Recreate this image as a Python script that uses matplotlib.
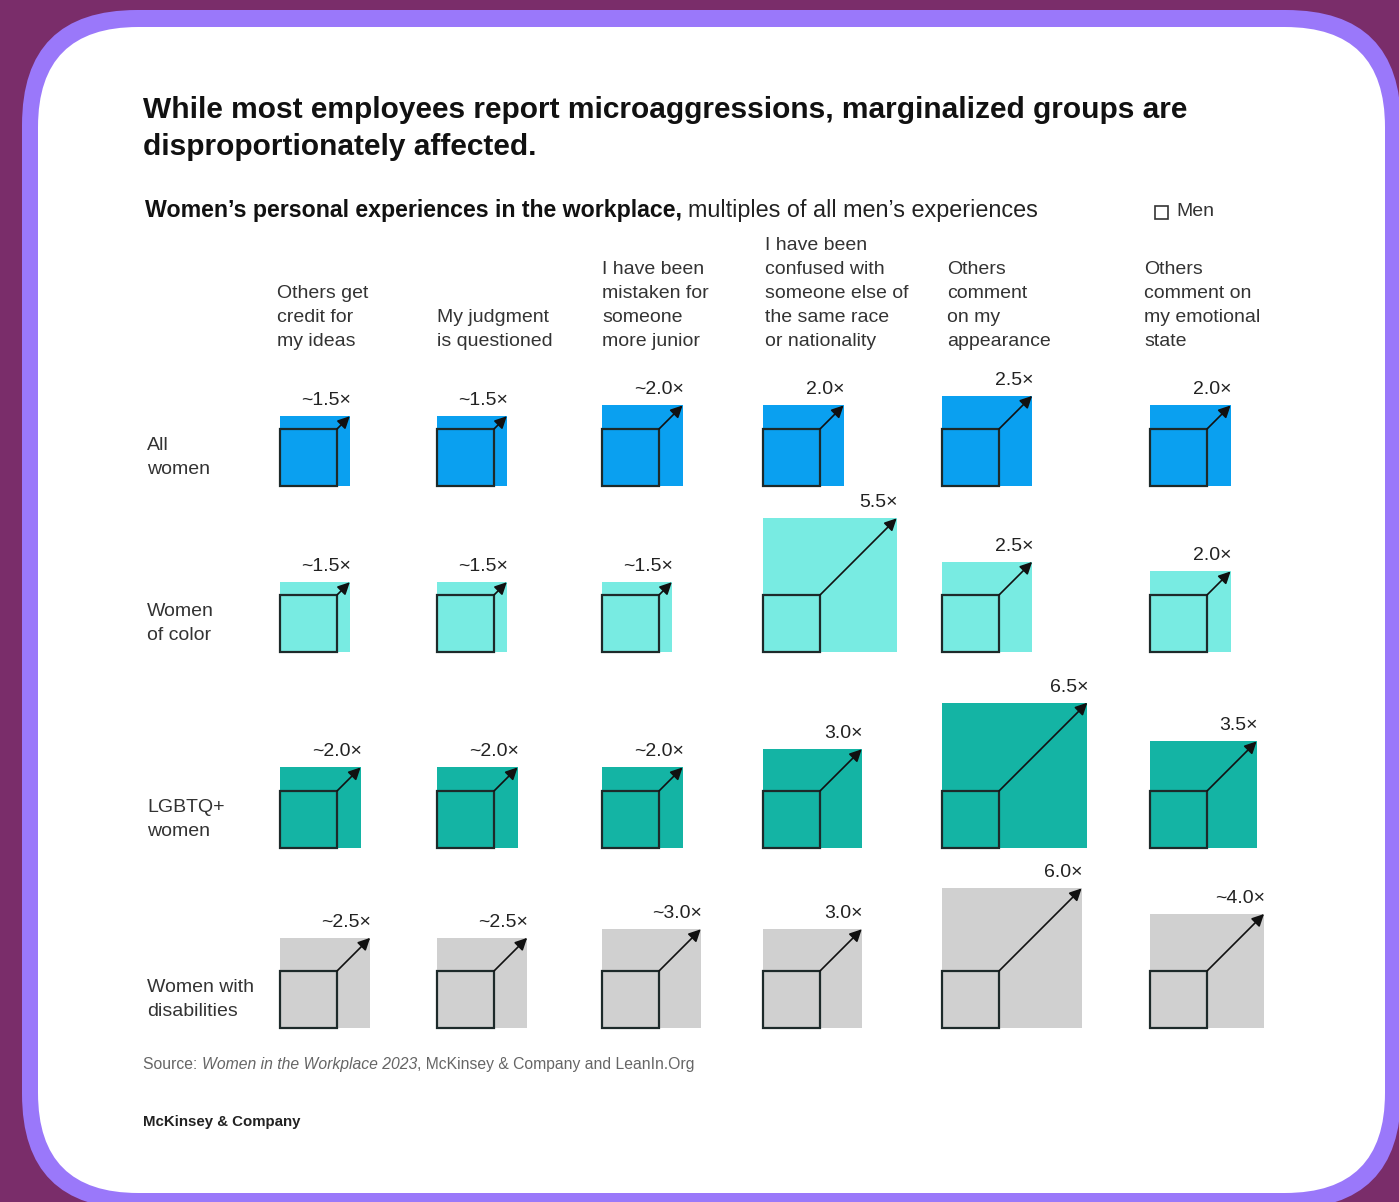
import matplotlib
matplotlib.use("Agg")
import matplotlib.pyplot as plt
from matplotlib.patches import Rectangle, FancyBboxPatch
import numpy as np

plt.rcParams['font.family'] = ['Liberation Sans', 'DejaVu Sans']

# ---------------- data ----------------
experiences = [
    ["Others get", "credit for", "my ideas"],
    ["My judgment", "is questioned"],
    ["I have been", "mistaken for", "someone", "more junior"],
    ["I have been", "confused with", "someone else of", "the same race", "or nationality"],
    ["Others", "comment", "on my", "appearance"],
    ["Others", "comment on", "my emotional", "state"],
]
groups = [["All", "women"], ["Women", "of color"], ["LGBTQ+", "women"], ["Women with", "disabilities"]]

all_women = [1.5, 1.5, 2.0, 2.0, 2.5, 2.0]
women_of_color = [1.5, 1.5, 1.5, 5.5, 2.5, 2.0]
lgbtq_women = [2.0, 2.0, 2.0, 3.0, 6.5, 3.5]
women_disabilities = [2.5, 2.5, 3.0, 3.0, 6.0, 4.0]

all_women_lbl = ["~1.5×", "~1.5×", "~2.0×", "2.0×", "2.5×", "2.0×"]
women_of_color_lbl = ["~1.5×", "~1.5×", "~1.5×", "5.5×", "2.5×", "2.0×"]
lgbtq_women_lbl = ["~2.0×", "~2.0×", "~2.0×", "3.0×", "6.5×", "3.5×"]
women_disabilities_lbl = ["~2.5×", "~2.5×", "~3.0×", "3.0×", "6.0×", "~4.0×"]

values = [all_women, women_of_color, lgbtq_women, women_disabilities]
labels = [all_women_lbl, women_of_color_lbl, lgbtq_women_lbl, women_disabilities_lbl]

# ---------------- layout / style ----------------
row_colors = ["#0aa0f0", "#78ebe2", "#14b4a4", "#d0d0d0"]
col_x = [280, 437, 602, 763, 942, 1150]
header_x = [277, 437, 602, 765, 947, 1144]
row_bottom = [486, 652, 848, 1028]
base = 57  # side of the "men" square in px

W, H = 1399, 1202
fig = plt.figure(figsize=(W / 100, H / 100), dpi=100)
ax = fig.add_axes([0, 0, 1, 1])
ax.set_xlim(0, W)
ax.set_ylim(H, 0)
ax.axis("off")
fig.patch.set_facecolor("#7a2d6a")

ax.add_patch(FancyBboxPatch((22, 10), 1401 - 22, 1209 - 10,
                            boxstyle="round,pad=0,rounding_size=115",
                            fc="#9a78fa", ec="none"))
ax.add_patch(FancyBboxPatch((38, 27), 1385 - 38, 1193 - 27,
                            boxstyle="round,pad=0,rounding_size=100",
                            fc="white", ec="none"))

ax.text(143, 110, "While most employees report microaggressions, marginalized groups are",
        fontsize=21.5, fontweight="bold", color="#111", va="center", ha="left")
ax.text(143, 147, "disproportionately affected.",
        fontsize=21.5, fontweight="bold", color="#111", va="center", ha="left")

t = ax.text(145, 217, "Women’s personal experiences in the workplace,", fontsize=16.7,
            fontweight="bold", color="#111", va="baseline", ha="left")
fig.canvas.draw()
bb = t.get_window_extent()
x_after = bb.x1 + 6  # pixels == data units on x
ax.text(x_after, 217, "multiples of all men’s experiences", fontsize=16.8,
        color="#222", va="baseline", ha="left")

# legend
ax.add_patch(Rectangle((1155, 206), 13, 13, fc="white", ec="#333", lw=1.2))
ax.text(1176, 212, "Men", fontsize=14, color="#333", va="center", ha="left")

# column headers
for x, lines in zip(header_x, experiences):
    n = len(lines)
    for i, line in enumerate(lines):
        ax.text(x, 346 - 24 * (n - 1 - i), line, fontsize=14, color="#333",
                ha="left", va="baseline")

# row labels
for yb, g in zip(row_bottom, groups):
    yc = yb - base / 2
    ax.text(147, yc - 7, g[0], fontsize=14, color="#333", ha="left", va="baseline")
    ax.text(147, yc + 17, g[1], fontsize=14, color="#333", ha="left", va="baseline")

# squares
for r, (vals, lbls) in enumerate(zip(values, labels)):
    yb = row_bottom[r]
    for c, (v, lb) in enumerate(zip(vals, lbls)):
        x0 = col_x[c]
        s = base * np.sqrt(v)
        ax.add_patch(Rectangle((x0, yb - s), s, s, fc=row_colors[r], ec="none"))
        ax.add_patch(Rectangle((x0, yb - base), base, base, fc="none", ec="#1d2a2a", lw=1.6))
        ax.annotate("", xy=(x0 + s, yb - s), xytext=(x0 + base, yb - base),
                    arrowprops=dict(arrowstyle="-|>", color="#111", lw=1.2,
                                    mutation_scale=18, shrinkA=0, shrinkB=0))
        ax.text(x0 + s + 1, yb - s - 11, lb, fontsize=14, color="#222",
                ha="right", va="baseline")

# footer
fy = 1069
s1 = ax.text(143, fy, "Source: ", fontsize=11.3, color="#666", ha="left", va="baseline")
fig.canvas.draw()
b1 = s1.get_window_extent()
s2 = ax.text(b1.x1, fy, "Women in the Workplace 2023", fontsize=11.3, color="#666",
             style="italic", ha="left", va="baseline")
fig.canvas.draw()
b2 = s2.get_window_extent()
ax.text(b2.x1, fy, ", McKinsey & Company and LeanIn.Org", fontsize=11.3, color="#666",
        ha="left", va="baseline")
ax.text(143, 1122, "McKinsey & Company", fontsize=10.8, fontweight="bold", color="#222",
        ha="left", va="center")

fig.savefig("out.png", dpi=100, facecolor=fig.get_facecolor())
